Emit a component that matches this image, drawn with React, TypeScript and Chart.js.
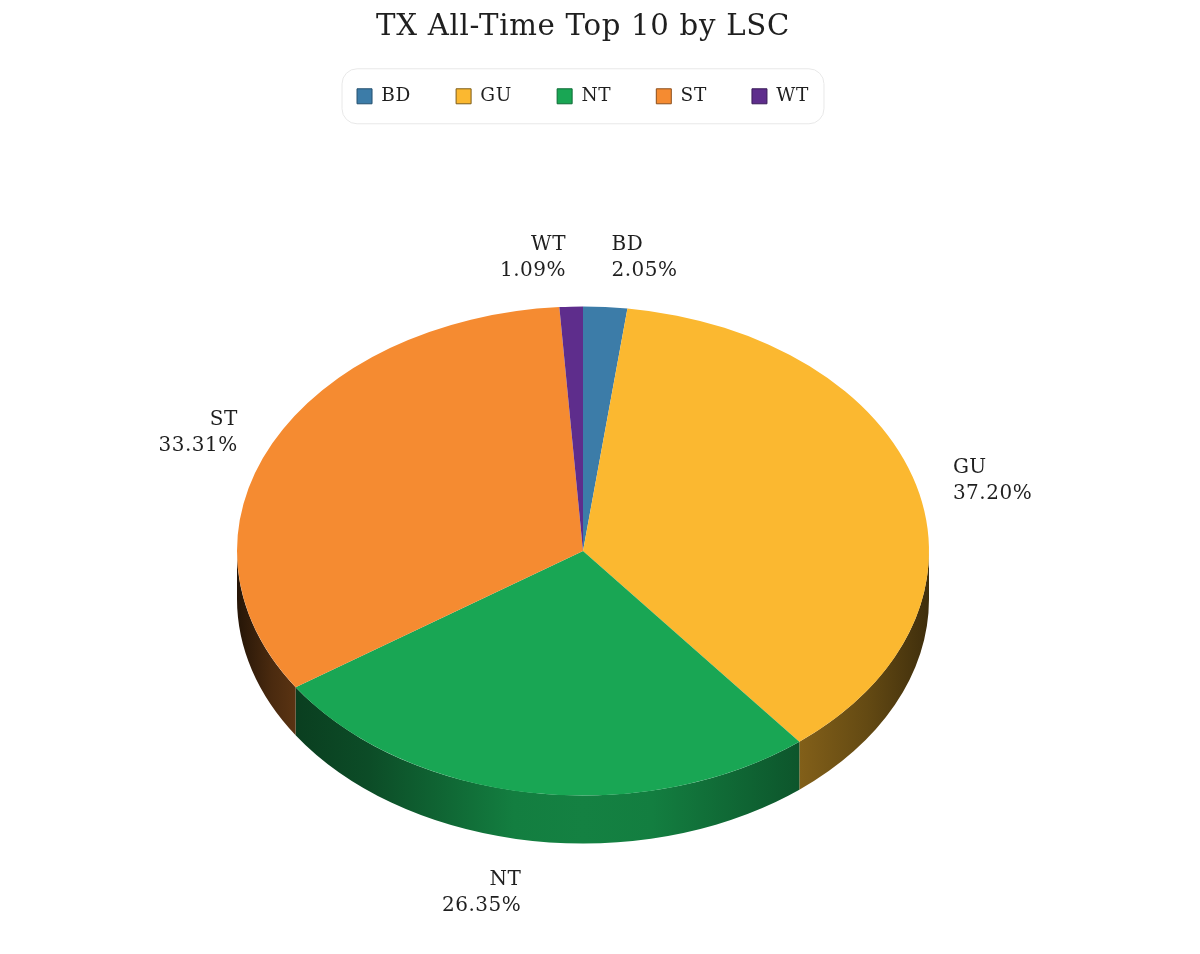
import React, { useEffect, useRef } from "react";
import { Chart, registerables } from "chart.js";

Chart.register(...registerables);

const categories = ["BD", "GU", "NT", "ST", "WT"];
const shares = [2.05, 37.2, 26.35, 33.31, 1.09];
const shareLabels = ["2.05%", "37.20%", "26.35%", "33.31%", "1.09%"];
const colors = ["#3c7ca8", "#fbb830", "#19a654", "#f58b31", "#5e2d8c"];
const legendEdges = ["#24506f", "#7d5c18", "#0d6b35", "#8a4e1c", "#3a1c58"];

const FONT = "'DejaVu Serif', serif";
const TEXT = "#1f1f1f";
const RX = 346;
const RY = 244.5;
const DEPTH = 48;
const CENTER_Y = 551;
// brightness of the side wall across the pie's width: [position, factor]
const wallShade: [number, number][] = [
  [0, 0.15],
  [0.05, 0.3],
  [0.09, 0.38],
  [0.19, 0.46],
  [0.4, 0.76],
  [0.5, 0.78],
  [0.6, 0.76],
  [0.81, 0.52],
  [0.91, 0.4],
  [1, 0.25],
];

function shade(hex: string, f: number) {
  const n = parseInt(hex.slice(1), 16);
  const r = Math.round(((n >> 16) & 255) * f);
  const g = Math.round(((n >> 8) & 255) * f);
  const b = Math.round((n & 255) * f);
  return `rgb(${r},${g},${b})`;
}

const pie3d = {
  id: "pie3d",
  beforeUpdate(chart: any) {
    chart.ctx.letterSpacing = "0.7px";
  },
  beforeDraw(chart: any) {
    const { ctx } = chart;
    ctx.letterSpacing = "0.7px";
    const hit = chart.legend?.legendHitBoxes;
    if (!hit || !hit.length) return;
    const first = hit[0];
    const last = hit[hit.length - 1];
    const left = first.left - 15;
    const right = last.left + last.width + 15;
    const mid = first.top + first.height / 2;
    ctx.save();
    ctx.beginPath();
    ctx.roundRect(left, mid - 27.5, right - left, 55, 15);
    ctx.strokeStyle = "#e8e8e8";
    ctx.lineWidth = 1;
    ctx.stroke();
    ctx.restore();
  },
  beforeDatasetsDraw(chart: any) {
    const { ctx } = chart;
    const arcs = chart.getDatasetMeta(0).data;
    const cx = arcs[0].x;
    ctx.save();
    arcs.forEach((arc: any, i: number) => {
      const a0 = Math.max(arc.startAngle, 0);
      const a1 = Math.min(arc.endAngle, Math.PI);
      if (a1 <= a0) return;
      const g = ctx.createLinearGradient(cx - RX, 0, cx + RX, 0);
      wallShade.forEach(([p, f]) => g.addColorStop(p, shade(colors[i], f)));
      ctx.beginPath();
      ctx.ellipse(cx, CENTER_Y, RX, RY, 0, a0, a1, false);
      ctx.ellipse(cx, CENTER_Y + DEPTH, RX, RY, 0, a1, a0, true);
      ctx.closePath();
      ctx.fillStyle = g;
      ctx.fill();
    });
    ctx.restore();
  },
  beforeDatasetDraw(chart: any) {
    const { ctx } = chart;
    const arc = chart.getDatasetMeta(0).data[0];
    ctx.save();
    ctx.translate(arc.x, CENTER_Y);
    ctx.scale(1, RY / RX);
    ctx.translate(-arc.x, -arc.y);
  },
  afterDatasetDraw(chart: any) {
    chart.ctx.restore();
  },
  afterDatasetsDraw(chart: any) {
    const { ctx } = chart;
    const arcs = chart.getDatasetMeta(0).data;
    ctx.save();
    ctx.font = `20px ${FONT}`;
    ctx.letterSpacing = "0.5px";
    ctx.fillStyle = TEXT;
    ctx.textBaseline = "middle";
    arcs.forEach((arc: any, i: number) => {
      const mid = (arc.startAngle + arc.endAngle) / 2;
      const c = Math.cos(mid);
      const s = Math.sin(mid);
      const side = c >= 0 ? 1 : -1;
      const x = arc.x + c * (RX + 34) + side * 4;
      const lift = 49 * Math.pow(Math.abs(s), 1.9) * Math.sign(s);
      const y = CENTER_Y + s * RY + lift + (s > 0 ? DEPTH + 4 : 0);
      ctx.textAlign = side > 0 ? "left" : "right";
      ctx.fillText(categories[i], x, y - 13);
      ctx.fillText(shareLabels[i], x, y + 13);
    });
    ctx.restore();
  },
};

export default function App() {
  const ref = useRef<HTMLCanvasElement>(null);
  useEffect(() => {
    const chart = new Chart(ref.current!, {
      type: "pie",
      data: {
        labels: categories,
        datasets: [
          {
            data: shares,
            backgroundColor: colors,
            borderWidth: 0,
            radius: RX,
          } as any,
        ],
      },
      options: {
        responsive: false,
        animation: false,
        plugins: {
          title: {
            display: true,
            text: "TX All-Time Top 10 by LSC",
            color: TEXT,
            font: { family: FONT, size: 29.2, weight: "normal" },
            padding: { top: 10, bottom: -3 },
          },
          legend: {
            display: true,
            position: "top",
            labels: {
              boxWidth: 15,
              boxHeight: 15,
              padding: 45,
              color: TEXT,
              font: { family: FONT, size: 18.5 },
              generateLabels: () =>
                categories.map((text, i) => ({
                  text,
                  index: i,
                  fillStyle: colors[i],
                  strokeStyle: legendEdges[i],
                  lineWidth: 1,
                  fontColor: TEXT,
                })),
            },
          },
          tooltip: { enabled: false },
        },
      },
      plugins: [pie3d],
    } as any);
    return () => chart.destroy();
  }, []);
  return (
    <div style={{ position: "absolute", left: 0, top: 0, width: 1200, height: 954, background: "#fff" }}>
      <canvas ref={ref} width={1166} height={954} style={{ display: "block" }} />
    </div>
  );
}
